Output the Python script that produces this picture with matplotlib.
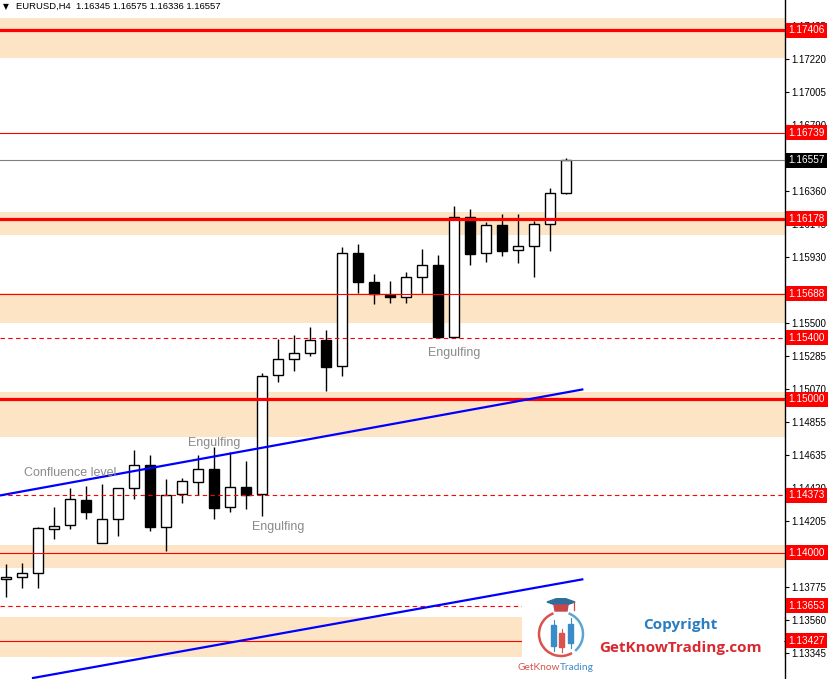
import matplotlib
matplotlib.use("Agg")
import matplotlib.pyplot as plt
from matplotlib.patches import Arc, Rectangle, Polygon

plt.rcParams["font.family"] = ["Liberation Sans", "DejaVu Sans"]

# EURUSD H4 candles
opens = [1.13826, 1.13839, 1.13866, 1.14152, 1.14178, 1.14341, 1.14061, 1.14218,
         1.14420, 1.14572, 1.14169, 1.14383, 1.14459, 1.14544, 1.14296, 1.14428,
         1.14381, 1.15156, 1.15261, 1.15300, 1.15385, 1.15215, 1.15952, 1.15763,
         1.15680, 1.15669, 1.15795, 1.15874, 1.15408, 1.16191, 1.15952, 1.16134,
         1.15971, 1.15998, 1.16141, 1.16345]
highs = [1.13926, 1.13931, 1.14165, 1.14296, 1.14420, 1.14435, 1.14446, 1.14420,
         1.14669, 1.14637, 1.14478, 1.14485, 1.14637, 1.14691, 1.14658, 1.14598,
         1.15170, 1.15393, 1.15419, 1.15469, 1.15452, 1.15991, 1.16013, 1.15817,
         1.15771, 1.15830, 1.15980, 1.15941, 1.16260, 1.16241, 1.16158, 1.16208,
         1.16208, 1.16164, 1.16376, 1.16575]
lows = [1.13713, 1.13768, 1.13772, 1.14087, 1.14152, 1.14218, 1.14061, 1.14111,
        1.14348, 1.14143, 1.14013, 1.14326, 1.14376, 1.14218, 1.14267, 1.14287,
        1.14241, 1.15113, 1.15186, 1.15284, 1.15054, 1.15154, 1.15695, 1.15619,
        1.15630, 1.15630, 1.15695, 1.15408, 1.15398, 1.15878, 1.15897, 1.15936,
        1.15891, 1.15799, 1.15969, 1.16336]
closes = [1.13839, 1.13866, 1.14159, 1.14176, 1.14348, 1.14263, 1.14218, 1.14420,
          1.14570, 1.14169, 1.14374, 1.14465, 1.14544, 1.14293, 1.14426, 1.14378,
          1.15152, 1.15261, 1.15300, 1.15385, 1.15213, 1.15952, 1.15763, 1.15687,
          1.15669, 1.15795, 1.15874, 1.15408, 1.16191, 1.15949, 1.16134, 1.15969,
          1.15998, 1.16141, 1.16343, 1.16557]

# support / resistance zones (low, high)
zone_lo = [1.17227, 1.16071, 1.15497, 1.14756, 1.13902, 1.13322]
zone_hi = [1.17488, 1.16223, 1.15693, 1.15050, 1.14050, 1.13583]

thick_levels = [1.17406, 1.16178, 1.15000]
thin_levels = [1.16739, 1.15688, 1.14000, 1.13427]
dashed_levels = [1.15400, 1.14373, 1.13653]

# trend lines: (candle index, price) end points
upper_trend_x = [-0.4, 36.0]
upper_trend_y = [1.14373, 1.15064]
lower_trend_x = [1.67, 36.0]
lower_trend_y = [1.13183, 1.13826]

price_ticks = [1.17435, 1.17220, 1.17005, 1.16790, 1.16575, 1.16360, 1.16145,
               1.15930, 1.15715, 1.15500, 1.15285, 1.15070, 1.14855, 1.14635,
               1.14420, 1.14205, 1.13990, 1.13775, 1.13560, 1.13345]
# these two sit fully under the level labels
hidden_ticks = [1.16575, 1.13990]

labels_text = ["Engulfing", "Engulfing", "Engulfing", "Confluence level"]
labels_x = [13, 17, 28, 1.1]
labels_y = [1.14717, 1.14169, 1.15300, 1.14518]
labels_ha = ["center", "center", "center", "left"]

W, H = 831, 679
fig = plt.figure(figsize=(W / 100, H / 100), dpi=100)
ax = fig.add_axes([0, 0, 785 / W, 1])

n = len(opens)
idx = list(range(n))

for lo, hi in zip(zone_lo, zone_hi):
    ax.axhspan(lo, hi, color="#FDE4C5", lw=0, zorder=0)

# candles
ax.vlines(idx, lows, highs, color="black", lw=1.0, zorder=2)
bottoms = [min(o, c) for o, c in zip(opens, closes)]
heights = [max(abs(c - o), 0.000015) for o, c in zip(opens, closes)]
faces = ["white" if c >= o else "black" for o, c in zip(opens, closes)]
ax.bar(idx, heights, bottom=bottoms, width=0.62, color=faces,
       edgecolor="black", linewidth=1.0, zorder=2.5)

# horizontal levels
for p in thick_levels:
    ax.axhline(p, color="#FF0000", lw=2.3, zorder=3)
for p in thin_levels:
    ax.axhline(p, color="#FF0000", lw=0.8, zorder=3)
for p in dashed_levels:
    ax.axhline(p, color="#FF0000", lw=0.8, ls=(0, (4, 3)), zorder=3)
ax.axhline(closes[-1], color="#808080", lw=0.8, zorder=3)

# trend lines
ax.plot(upper_trend_x, upper_trend_y, color="#0000FF", lw=1.6, zorder=3.2)
ax.plot(lower_trend_x, lower_trend_y, color="#0000FF", lw=1.6, zorder=3.2)

for t, x, y, ha in zip(labels_text, labels_x, labels_y, labels_ha):
    ax.text(x, y, t, ha=ha, va="center", fontsize=9, color="#8A8A8A", zorder=4)

ax.set_xlim(-6.3 / 16, (785 - 6.3) / 16)
ax.set_ylim(1.131764, 1.176034)

for s in ["top", "left", "bottom"]:
    ax.spines[s].set_visible(False)
ax.spines["right"].set_color("black")
ax.spines["right"].set_linewidth(1.0)
ax.set_xticks([])
ax.yaxis.tick_right()
ax.set_yticks(price_ticks)
ax.set_yticklabels(["" if p in hidden_ticks else f"{p:.5f}" for p in price_ticks])
ax.tick_params(axis="y", length=3, width=0.8, pad=1.5, labelsize=7,
               colors="black")

# price labels on the scale
trans = ax.get_yaxis_transform()
for p in thick_levels + thin_levels + dashed_levels:
    ax.text(1 + 3.5 / 785, p, f"{p:.5f}", transform=trans, ha="left", va="center",
            fontsize=7.2, color="white", zorder=6, clip_on=False,
            bbox=dict(boxstyle="square,pad=0.25", fc="#FF0000", ec="none"))
ax.text(1 + 3.5 / 785, closes[-1], f"{closes[-1]:.5f}", transform=trans, ha="left",
        va="center", fontsize=7.2, color="white", zorder=6, clip_on=False,
        bbox=dict(boxstyle="square,pad=0.25", fc="black", ec="none"))

# header
fig.text(3 / W, 1 - 6.5 / H, "\u25bc", fontsize=5.5, va="center", ha="left",
         family=["DejaVu Sans"])
fig.text(15.5 / W, 1 - 6.5 / H,
         f"EURUSD,H4  {opens[-1]:.5f} {highs[-1]:.5f} {lows[-1]:.5f} {closes[-1]:.5f}",
         fontsize=6.8, va="center", ha="left")

# watermark logo box
lax = fig.add_axes([522 / W, 0, 262 / W, 81 / H])
lax.set_xlim(522, 784)
lax.set_ylim(679, 598)
lax.set_facecolor("white")
lax.set_xticks([])
lax.set_yticks([])
for s in lax.spines.values():
    s.set_visible(False)

cx, cy, r = 561, 634, 22
lax.add_patch(Arc((cx, cy), 2 * r, 2 * r, theta1=60, theta2=250,
                  color="#D9534F", lw=1.8))
lax.add_patch(Arc((cx, cy), 2 * r, 2 * r, theta1=-70, theta2=50,
                  color="#5AA5D6", lw=1.8))
for x0, y0, y1, w0, w1, col in [(553.5, 625, 646, 620, 651, "#3A8CC8"),
                                 (561.5, 633, 647, 629, 652, "#D9534F"),
                                 (570.5, 624, 643, 618, 648, "#3A8CC8")]:
    lax.plot([x0, x0], [w0, w1], color=col, lw=0.8)
    lax.add_patch(Rectangle((x0 - 2.6, y0), 5.2, y1 - y0, color=col))
lax.add_patch(Polygon([(547, 602), (561, 597), (575, 602), (561, 607)],
                      closed=True, color="#2F6E9A"))
lax.add_patch(Polygon([(554, 605), (568, 605), (567, 611), (555, 611)],
                      closed=True, color="#C9474A"))
lax.plot([574, 574], [602, 610], color="#C9474A", lw=0.9)
lax.text(560, 667, "GetKnow", color="#D9534F", fontsize=7.3, ha="right",
         va="center", family=["Lato", "DejaVu Sans"])
lax.text(560, 667, "Trading", color="#3A8CC8", fontsize=7.3, ha="left",
         va="center", family=["Lato", "DejaVu Sans"])
lax.text(680, 625, "Copyright", color="#2A7DC0", fontsize=11,
         fontweight="bold", ha="center", va="center",
         family=["Open Sans", "DejaVu Sans"])
lax.text(680, 648, "GetKnowTrading.com", color="#D9282F", fontsize=11,
         fontweight="bold", ha="center", va="center",
         family=["Open Sans", "DejaVu Sans"])

fig.savefig("out.png", dpi=100)
